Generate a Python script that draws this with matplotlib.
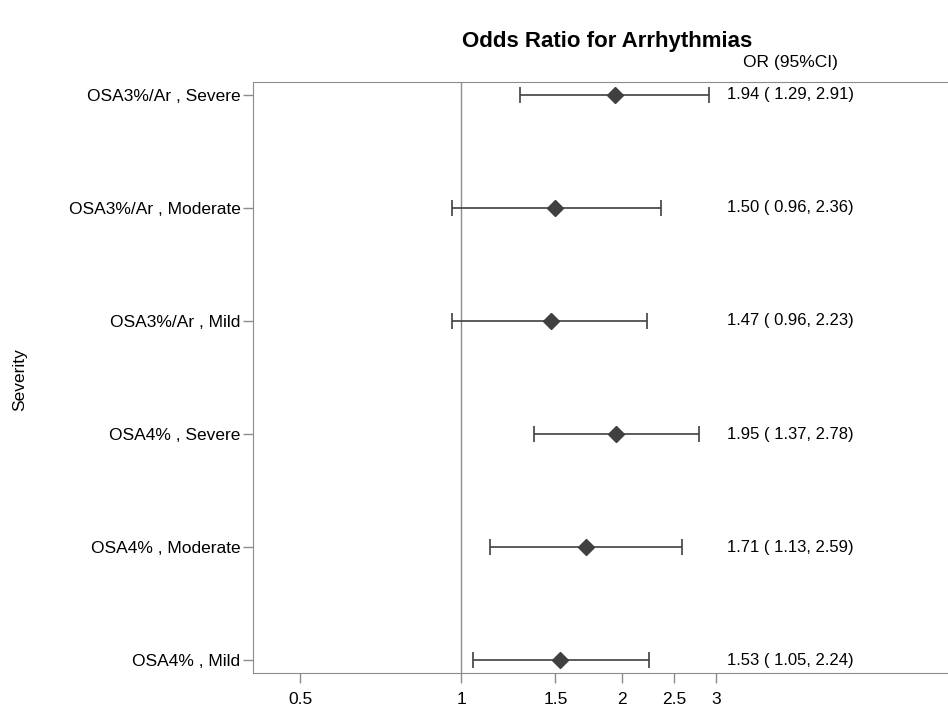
import matplotlib.pyplot as plt
from matplotlib.ticker import FixedLocator, NullLocator
import matplotlib.transforms as mtransforms

plt.rcParams['font.family'] = ['Liberation Sans', 'DejaVu Sans']

# data (top to bottom)
labels = ["OSA3%/Ar , Severe", "OSA3%/Ar , Moderate", "OSA3%/Ar , Mild",
          "OSA4% , Severe", "OSA4% , Moderate", "OSA4% , Mild"]
odds = [1.94, 1.50, 1.47, 1.95, 1.71, 1.53]
lower = [1.29, 0.96, 0.96, 1.37, 1.13, 1.05]
upper = [2.91, 2.36, 2.23, 2.78, 2.59, 2.24]
xticks = [0.5, 1, 1.5, 2, 2.5, 3]
xticklabels = ["0.5", "1", "1.5", "2", "2.5", "3"]

dark = '#404040'
grey = '#8c8c8c'

fig = plt.figure(figsize=(9.48, 7.09), dpi=100)
ax = fig.add_axes([253 / 948, 1 - 673 / 709, 1 - 253 / 948 + 0.002, (673 - 82) / 709])

ypos = list(range(len(labels) - 1, -1, -1))
xerr = [[o - l for o, l in zip(odds, lower)], [u - o for o, u in zip(odds, upper)]]
ax.axvline(1, color=grey, lw=1, zorder=1)
ax.errorbar(odds, ypos, xerr=xerr, fmt='D', color=dark, ms=8, ecolor=dark,
            elinewidth=1.2, capsize=6, capthick=1.2, zorder=3)

ax.set_xscale('log')
ax.set_xlim(0.408, 8.2)
ax.set_ylim(-0.115, len(labels) - 1 + 0.115)
ax.xaxis.set_major_locator(FixedLocator(xticks))
ax.xaxis.set_minor_locator(NullLocator())
ax.set_xticklabels(xticklabels)
ax.set_yticks(ypos)
ax.set_yticklabels(labels)
ax.tick_params(axis='both', colors=grey, labelcolor='black', labelsize=12.5,
               length=7, width=1)
ax.tick_params(axis='x', pad=7)
ax.tick_params(axis='y', pad=2)
for s in ax.spines.values():
    s.set_color(grey)
ax.spines['right'].set_visible(False)

fig.text(20 / 948, 1 - 380 / 709, "Severity", rotation=90, ha='center',
         va='center', fontsize=12.5)

# OR text column
trans = mtransforms.blended_transform_factory(ax.transAxes, ax.transData)
for y, o, l, u in zip(ypos, odds, lower, upper):
    ax.text(0.6805, y, f"{o:.2f} ( {l:.2f}, {u:.2f})", transform=trans,
            ha='left', va='center', fontsize=12)
fig.text(790 / 948, 1 - 63 / 709, "OR (95%CI)", ha='center', va='center', fontsize=12.5)
fig.text(607 / 948, 1 - 41 / 709, "Odds Ratio for Arrhythmias", ha='center',
         va='center', fontsize=16, fontweight='bold')

fig.savefig('out.png', dpi=100)
